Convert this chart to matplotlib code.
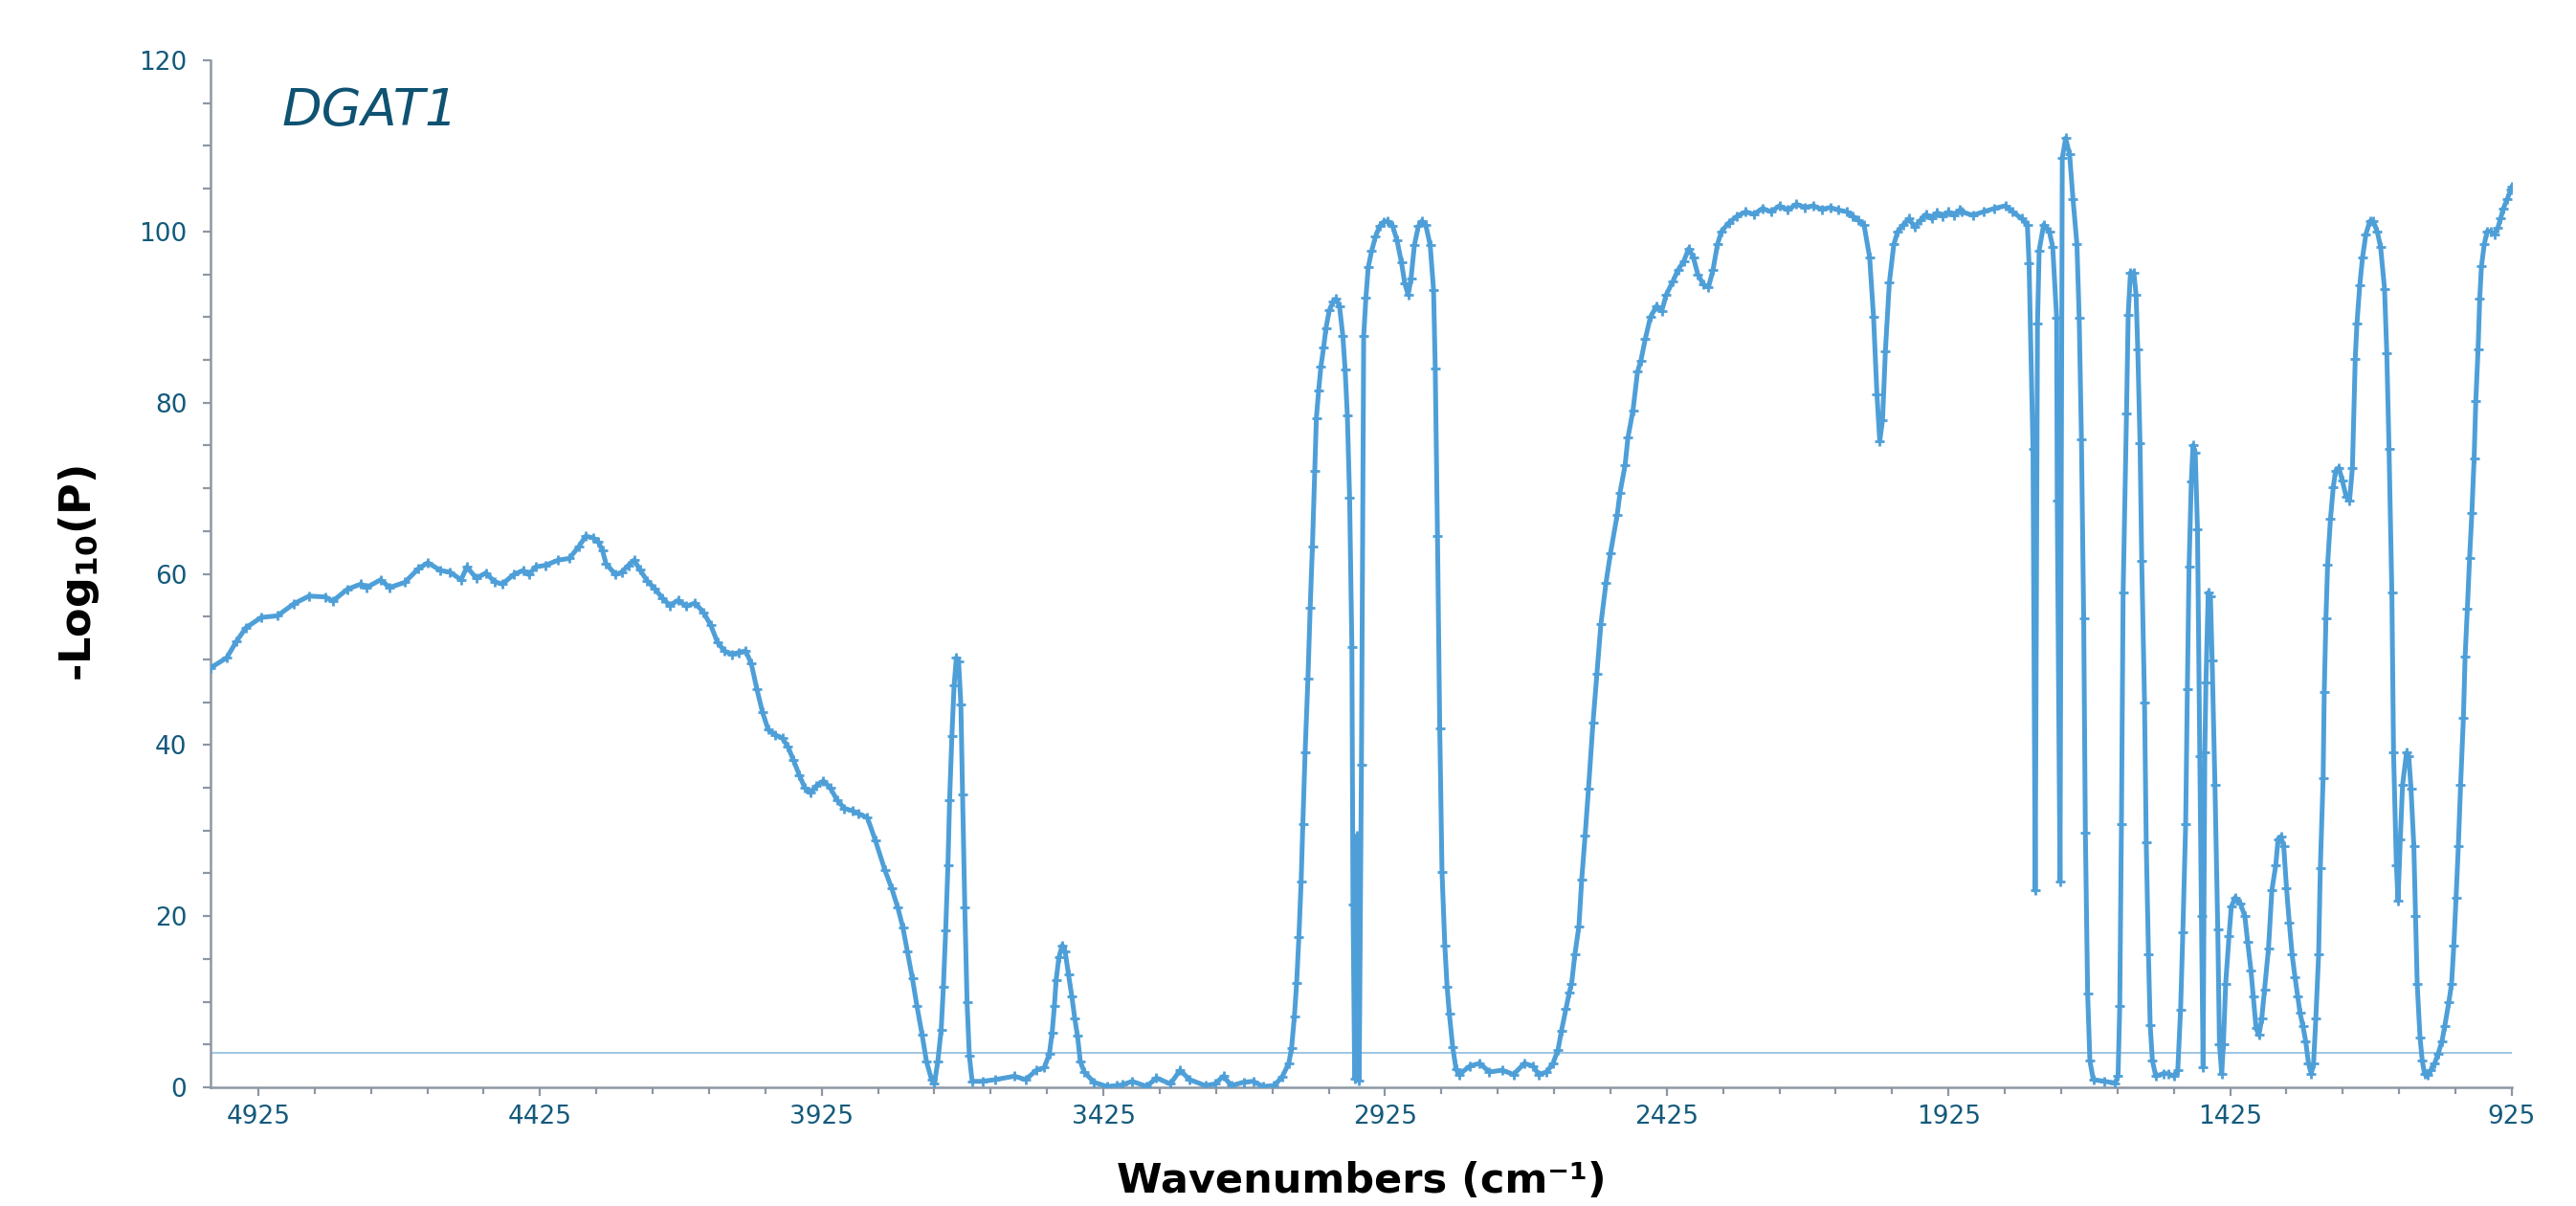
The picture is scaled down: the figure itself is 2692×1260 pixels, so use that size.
import matplotlib
matplotlib.use('Agg')
import matplotlib.pyplot as plt
import numpy as np
from matplotlib.ticker import FixedLocator, MultipleLocator

# spectrum (wavenumber in cm-1, -log10(P))
wavenumber = [
    5010, 4981, 4964, 4947, 4920, 4891, 4862, 4835, 4806, 4793, 4767, 4743, 4733, 4708, 4692,
    4665, 4641, 4624, 4602, 4585, 4565, 4555, 4538, 4521, 4506, 4492, 4472, 4455, 4445, 4433,
    4415, 4393, 4373, 4356, 4344, 4331, 4322, 4314, 4308, 4291, 4280,
    4268, 4258, 4248, 4235, 4222, 4208, 4195, 4180, 4165, 4150, 4135, 4122, 4110, 4098, 4085,
    4072, 4060, 4050, 4040, 4030, 4020, 4008, 3995, 3985, 3975, 3965, 3955, 3945, 3935, 3922,
    3910, 3898, 3885, 3870, 3860,
    3844, 3830, 3813, 3801, 3790, 3781, 3773, 3764, 3756, 3747, 3739, 3730, 3725, 3719, 3713,
    3709, 3705, 3701, 3698, 3694, 3690, 3686, 3682, 3678, 3675, 3671, 3667, 3663, 3658, 3640,
    3617, 3583, 3563, 3544, 3530, 3521, 3516, 3512, 3509, 3504, 3498, 3493, 3487, 3481, 3476,
    3471, 3466, 3459, 3442, 3419, 3402, 3391, 3374, 3348, 3331, 3306, 3289, 3272, 3244, 3227,
    3212, 3198, 3176, 3159, 3142, 3122, 3108, 3096, 3091, 3086, 3082, 3078, 3074, 3071, 3067,
    3062, 3058, 3054, 3050,
    3047, 3043, 3039, 3034, 3030, 3024, 3017, 3012, 3006, 3000, 2996, 2992, 2988, 2984, 2982,
    2979, 2975, 2971, 2967, 2963, 2959, 2955, 2949, 2942, 2935, 2928, 2920, 2912, 2904, 2896,
    2890, 2884, 2879, 2873, 2866, 2860, 2853, 2845, 2839, 2836, 2832, 2828, 2824, 2819, 2815,
    2811, 2805, 2799, 2794, 2774, 2757, 2740, 2717, 2697, 2678, 2663, 2652, 2638, 2627, 2618,
    2612, 2604, 2598, 2594, 2588, 2581, 2576, 2570, 2564, 2556, 2549, 2542, 2533, 2525, 2513,
    2508, 2499, 2494, 2485, 2477, 2471, 2463, 2454, 2443, 2434, 2426, 2414,
    2405, 2395, 2386, 2378, 2370, 2360, 2351, 2343, 2335, 2328, 2315, 2300, 2285, 2270, 2255,
    2240, 2225, 2210, 2195, 2180, 2165, 2150, 2135, 2120, 2105, 2095, 2085, 2075, 2065, 2058,
    2052, 2047, 2042, 2037, 2030, 2022, 2015, 2005, 1995, 1985, 1975, 1965, 1955, 1945, 1935,
    1925, 1915, 1905,
    1902, 1882, 1863, 1843, 1824, 1811, 1795, 1785, 1782, 1775, 1771, 1767, 1764, 1756, 1746,
    1740, 1733, 1732, 1727, 1723, 1717, 1710, 1704, 1697, 1693, 1689, 1685, 1682, 1678, 1674,
    1668, 1648, 1629, 1624, 1621, 1618, 1615, 1609, 1606, 1602, 1596, 1592, 1589, 1585, 1582,
    1577, 1574, 1570, 1567, 1563, 1557, 1544, 1535, 1525, 1518, 1513, 1509, 1504, 1501, 1498,
    1494, 1491, 1487, 1483, 1479, 1476, 1473, 1470, 1468, 1464, 1460, 1457, 1452, 1447, 1444,
    1440, 1437, 1433, 1427, 1423, 1416, 1407, 1399, 1394, 1388, 1384, 1379, 1374, 1369, 1364,
    1357, 1351, 1344, 1340, 1335, 1330, 1325, 1320, 1315, 1310, 1305, 1301, 1296, 1291, 1286,
    1281, 1277, 1273, 1268, 1265, 1260, 1258, 1255, 1252, 1247, 1242, 1238, 1232, 1226, 1219,
    1213, 1208, 1203, 1200, 1195, 1190, 1184, 1177, 1171, 1164, 1158, 1151, 1147, 1143, 1138,
    1135, 1130, 1127, 1123, 1119, 1112, 1108, 1104, 1099, 1096, 1093, 1088, 1084, 1080, 1075,
    1069, 1062, 1056, 1049, 1044, 1037, 1032, 1028, 1024, 1020, 1016, 1011, 1008, 1004, 1000,
    996, 992, 989, 985, 982, 979, 974, 969, 963, 956, 950, 945, 940, 933, 927, 925,
]
neg_log_p = [
    49.0, 50.2, 52.1, 53.7, 54.9, 55.1, 56.5, 57.4, 57.3, 56.8, 58.2, 58.8, 58.4, 59.3, 58.4,
    59.0, 60.6, 61.3, 60.4, 60.2, 59.3, 60.8, 59.5, 60.1, 59.1, 58.8, 59.9, 60.4, 59.9, 60.8,
    61.0, 61.6, 61.8, 63.2, 64.4, 64.2, 63.8, 62.7, 61.2, 59.9, 60.2,
    61.0, 61.6, 60.5, 59.2, 58.3, 57.2, 56.3, 56.9, 56.2, 56.6, 55.5, 54.0, 52.0, 51.0, 50.6,
    50.8, 51.0, 49.5, 46.5, 43.8, 41.8, 41.2, 40.8, 39.8, 38.2, 36.5, 35.0, 34.4, 35.2, 35.8,
    35.0, 33.6, 32.6, 32.3, 32.0,
    31.5, 28.9, 25.4, 23.3, 21.0, 18.7, 15.9, 12.7, 9.5, 6.2, 3.0, 0.9, 0.4, 3.0, 6.7,
    11.8, 18.3, 25.9, 33.6, 41.0, 47.0, 50.2, 49.8, 44.7, 34.2, 21.0, 9.9, 3.7, 0.7, 0.7,
    0.9, 1.3, 0.9, 2.0, 2.3, 3.9, 6.4, 9.5, 12.5, 15.2, 16.6, 15.9, 13.2, 10.6, 8.1,
    6.0, 3.0, 1.8, 0.6, 0.1, 0.2, 0.3, 0.7, 0.1, 1.1, 0.4, 2.0, 0.9, 0.2, 0.4,
    1.3, 0.2, 0.6, 0.7, 0.1, 0.2, 1.2, 2.8, 4.6, 8.3, 12.2, 17.6, 24.1, 30.8, 39.1,
    47.7, 56.0, 63.2, 72.0,
    78.2, 81.4, 84.2, 86.5, 88.7, 90.8, 91.8, 92.1, 91.3, 87.8, 83.9, 78.5, 68.9, 51.5, 21.4,
    1.0, 29.4, 0.8, 37.7, 87.8, 92.3, 95.8, 97.7, 99.4, 100.6, 101.1, 101.2, 100.7, 99.0, 96.4,
    93.9, 92.6, 94.5, 98.4, 100.6, 101.2, 100.8, 98.4, 93.2, 84.0, 64.4, 41.9, 25.2, 16.6, 11.8,
    8.6, 4.7, 2.1, 1.5, 2.5, 2.8, 1.8, 2.0, 1.5, 2.8, 2.5, 1.5, 1.8, 2.8, 4.4,
    6.6, 9.2, 11.1, 12.1, 15.6, 18.8, 24.3, 29.4, 34.9, 42.6, 48.3, 54.1, 58.9, 62.4, 66.9,
    69.5, 72.7, 75.9, 79.1, 83.6, 84.9, 87.5, 90.0, 91.3, 90.7, 92.6, 94.2,
    95.5, 96.5, 98.0, 97.0, 95.0, 93.8, 93.5, 95.5, 98.5, 100.0, 101.0, 101.8, 102.3, 102.0, 102.7,
    102.3, 103.0, 102.5, 103.2, 102.8, 103.0, 102.6, 102.8, 102.5, 102.3, 101.8, 101.3, 100.8, 97.0, 90.0,
    81.0, 75.5, 78.0, 86.0, 94.0, 98.5, 100.0, 100.8, 101.5, 100.5, 101.3, 102.0, 101.5, 102.2, 101.8,
    102.3, 101.9, 102.5,
    102.3, 101.9, 102.3, 102.7, 103.0, 102.3, 101.5, 100.8, 96.3, 74.6, 23.0, 89.2, 97.8, 100.8, 100.0,
    98.2, 89.9, 68.6, 24.1, 108.6, 110.9, 109.0, 103.8, 98.5, 89.9, 75.7, 54.8, 29.7, 11.0, 3.1,
    0.9, 0.7, 0.5, 1.3, 9.5, 30.8, 57.8, 78.7, 90.3, 95.2, 95.2, 92.6, 86.2, 75.3, 61.5,
    45.0, 28.6, 15.5, 7.3, 3.1, 1.3, 1.6, 1.6, 1.3, 2.0, 9.1, 18.1, 30.8, 46.5, 60.8,
    70.8, 75.0, 74.2, 65.2, 38.7, 20.0, 2.4, 39.1, 47.3, 57.8, 57.4, 49.9, 35.3, 18.5, 5.0,
    1.6, 5.0, 12.1, 17.7, 21.1, 22.2, 21.5, 20.0, 17.0, 13.6, 10.6, 6.9, 6.1, 8.0, 11.4,
    16.2, 23.0, 26.0, 29.0, 29.3, 28.2, 23.3, 19.2, 15.5, 12.9, 10.6, 8.7, 7.2, 5.4, 2.8,
    1.6, 2.8, 8.0, 15.5, 25.6, 36.1, 46.2, 54.8, 61.1, 66.4, 70.1, 72.0, 72.4, 70.9, 69.0,
    68.6, 72.4, 85.1, 89.2, 93.7, 97.0, 99.7, 101.2, 101.2, 100.0, 98.2, 93.3, 85.8, 74.6, 57.8,
    39.1, 26.0, 21.8, 29.0, 35.3, 39.1, 38.7, 34.9, 28.2, 20.0, 12.1, 5.8, 3.1, 1.6, 1.4,
    2.0, 2.8, 3.9, 5.4, 7.2, 9.9, 12.1, 16.6, 22.2, 28.2, 35.3, 43.2, 50.3, 55.9, 61.9,
    67.1, 73.5, 80.2, 86.2, 92.2, 95.9, 98.5, 100.0, 100.0, 99.7, 100.4, 101.5, 102.7, 103.8, 104.9, 105.2,
]
threshold = 4.0
gene = 'DGAT1'
x_ticks = [4925, 4425, 3925, 3425, 2925, 2425, 1925, 1425, 925]
y_ticks = [0, 20, 40, 60, 80, 100, 120]

line_col = '#4e9fd8'
text_col = '#145a7c'
axis_col = '#8d97a3'

fig = plt.figure(figsize=(13.46, 6.3), dpi=200)
ax = fig.add_axes([0.0817, 0.0984, 0.8934, 0.8516])

ax.plot(wavenumber, neg_log_p, color=line_col, lw=1.8, marker='+', ms=3.5, mew=1.0, zorder=3)
ax.axhline(threshold, color='#8fbcdf', lw=0.6, zorder=2)

ax.set_xlim(5010, 925)
ax.set_ylim(0, 120)

ax.xaxis.set_major_locator(FixedLocator(x_ticks))
ax.xaxis.set_minor_locator(FixedLocator(np.arange(1025, 5000, 100)))
ax.yaxis.set_major_locator(FixedLocator(y_ticks))
ax.yaxis.set_minor_locator(MultipleLocator(5))

for side in ['top', 'right']:
    ax.spines[side].set_visible(False)
for side in ['left', 'bottom']:
    ax.spines[side].set_color(axis_col)
    ax.spines[side].set_linewidth(0.9)

ax.tick_params(axis='x', which='major', length=3.3, width=0.8, color=axis_col,
               labelsize=9.5, labelcolor=text_col, pad=3)
ax.tick_params(axis='x', which='minor', length=2.5, width=0.8, color=axis_col)
ax.tick_params(axis='y', which='both', length=2.8, width=0.8, color=axis_col,
               labelsize=9.5, labelcolor=text_col, pad=6)

ax.set_xlabel('Wavenumbers (cm⁻¹)', fontsize=15.5, fontweight='bold', labelpad=12)
ax.set_ylabel(r'-Log$_{\mathbf{10}}$(P)', fontsize=16, fontweight='bold', labelpad=14)

ax.text(0.031, 0.937, gene, transform=ax.transAxes, fontsize=19.5, style='italic',
        color='#0f5272', ha='left', va='baseline')

fig.savefig('out.png', dpi=200)
